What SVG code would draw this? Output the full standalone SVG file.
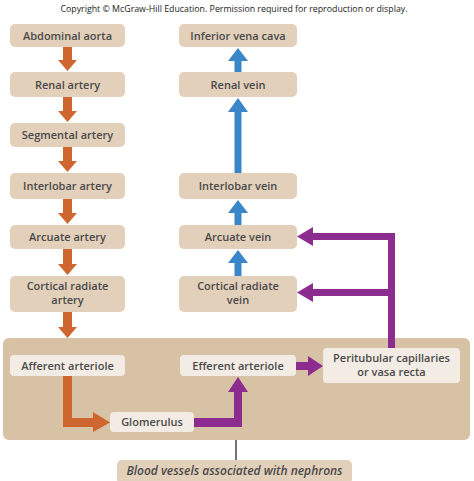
<svg xmlns="http://www.w3.org/2000/svg" width="474" height="481" viewBox="0 0 474 481">
<style>
.box{fill:#e3d0ba}
.big{fill:#d8c2a6}
.inner{fill:#f3ece4}
.t{font-family:"Open Sans","Liberation Sans",sans-serif;font-size:11px;font-weight:600;fill:#4a4a4a;text-anchor:middle}
.it{font-style:italic;font-size:12px}
.cp{font-family:"Open Sans","Liberation Sans",sans-serif;font-size:8.5px;fill:#222;text-anchor:middle}
.o{fill:#d0662f}
.b{fill:#3b86c9}
.p{fill:#8b2c8e}
</style>
<rect width="474" height="481" fill="#fff"/>
<text class="cp" x="234" y="12" textLength="347" lengthAdjust="spacingAndGlyphs">Copyright © McGraw-Hill Education. Permission required for reproduction or display.</text>

<g id="nephron-region">
<rect class="big" x="3" y="338" width="467" height="102" rx="6"/>
</g>

<g id="abdominal-aorta"><rect class="box" x="10" y="24" width="115" height="23" rx="5"/><text class="t" x="67.5" y="39.5">Abdominal aorta</text></g>
<g id="renal-artery"><rect class="box" x="10" y="72" width="115" height="25" rx="5"/><text class="t" x="67.5" y="88.5">Renal artery</text></g>
<g id="segmental-artery"><rect class="box" x="10" y="123" width="115" height="24" rx="5"/><text class="t" x="67.5" y="139">Segmental artery</text></g>
<g id="interlobar-artery"><rect class="box" x="10" y="173" width="115" height="26" rx="5"/><text class="t" x="67.5" y="190">Interlobar artery</text></g>
<g id="arcuate-artery"><rect class="box" x="10" y="225" width="115" height="24" rx="5"/><text class="t" x="67.5" y="241">Arcuate artery</text></g>
<g id="cortical-radiate-artery"><rect class="box" x="10" y="276" width="115" height="36" rx="5"/><text class="t" x="67.5" y="290">Cortical radiate</text><text class="t" x="67.5" y="304">artery</text></g>

<g id="inferior-vena-cava"><rect class="box" x="179" y="24" width="118" height="23" rx="5"/><text class="t" x="238" y="39.5">Inferior vena cava</text></g>
<g id="renal-vein"><rect class="box" x="179" y="72" width="118" height="25" rx="5"/><text class="t" x="238" y="88.5">Renal vein</text></g>
<g id="interlobar-vein"><rect class="box" x="179" y="173" width="118" height="26" rx="5"/><text class="t" x="238" y="190">Interlobar vein</text></g>
<g id="arcuate-vein"><rect class="box" x="179" y="225" width="118" height="24" rx="5"/><text class="t" x="238" y="241">Arcuate vein</text></g>
<g id="cortical-radiate-vein"><rect class="box" x="179" y="276" width="118" height="36" rx="5"/><text class="t" x="238" y="290">Cortical radiate</text><text class="t" x="238" y="304">vein</text></g>

<g id="afferent-arteriole"><rect class="inner" x="10" y="355" width="115" height="21" rx="4"/><text class="t" x="67.5" y="369.5">Afferent arteriole</text></g>
<g id="efferent-arteriole"><rect class="inner" x="180" y="355" width="116" height="21" rx="4"/><text class="t" x="238" y="369.5">Efferent arteriole</text></g>
<g id="peritubular"><rect class="inner" x="323" y="348" width="137" height="35" rx="4"/><text class="t" x="391.5" y="362">Peritubular capillaries</text><text class="t" x="391.5" y="376">or vasa recta</text></g>
<g id="glomerulus"><rect class="inner" x="110" y="412" width="84" height="20" rx="4"/><text class="t" x="152" y="426">Glomerulus</text></g>

<g id="label"><rect class="box" x="117" y="460" width="235" height="24" rx="5"/><text class="t it" x="234.5" y="474.5">Blood vessels associated with nephrons</text></g>

<g id="connectors">
<polygon class="o" points="63,47 72,47 72,60 77,60 67.5,71 58,60 63,60"/>
<polygon class="o" points="63,97 72,97 72,111 77,111 67.5,122 58,111 63,111"/>
<polygon class="o" points="63,147 72,147 72,161 77,161 67.5,172 58,161 63,161"/>
<polygon class="o" points="63,199 72,199 72,213 77,213 67.5,224 58,213 63,213"/>
<polygon class="o" points="63,249 72,249 72,264 77,264 67.5,275 58,264 63,264"/>
<polygon class="o" points="63,312 72,312 72,327 77,327 67.5,338 58,327 63,327"/>

<polygon class="b" points="234.5,72 241.5,72 241.5,61 248,61 238,48 228,61 234.5,61"/>
<polygon class="b" points="234.5,173 241.5,173 241.5,112 248,112 238,98 228,112 234.5,112"/>
<polygon class="b" points="234.5,225 241.5,225 241.5,213 248,213 238,200 228,213 234.5,213"/>
<polygon class="b" points="234.5,276 241.5,276 241.5,263 248,263 238,250 228,263 234.5,263"/>

<polygon class="p" points="395,348 388,348 388,296 313,296 313,302 297,292.5 313,283 313,289 388,289 388,240 313,240 313,246 297,236.5 313,227 313,233 395,233"/>

<polygon class="o" points="63,376 72,376 72,418 93,418 93,412 110,422.5 93,432 93,427 63,427"/>
<polygon class="p" points="194,418 234,418 234,392 228,392 238,377 248,392 242,392 242,427 194,427"/>
<polygon class="p" points="296,362 308,362 308,356 323,366 308,376 308,370 296,370"/>

<line x1="236" y1="440" x2="236" y2="460" stroke="#444" stroke-width="1.5"/>
</g>
</svg>
